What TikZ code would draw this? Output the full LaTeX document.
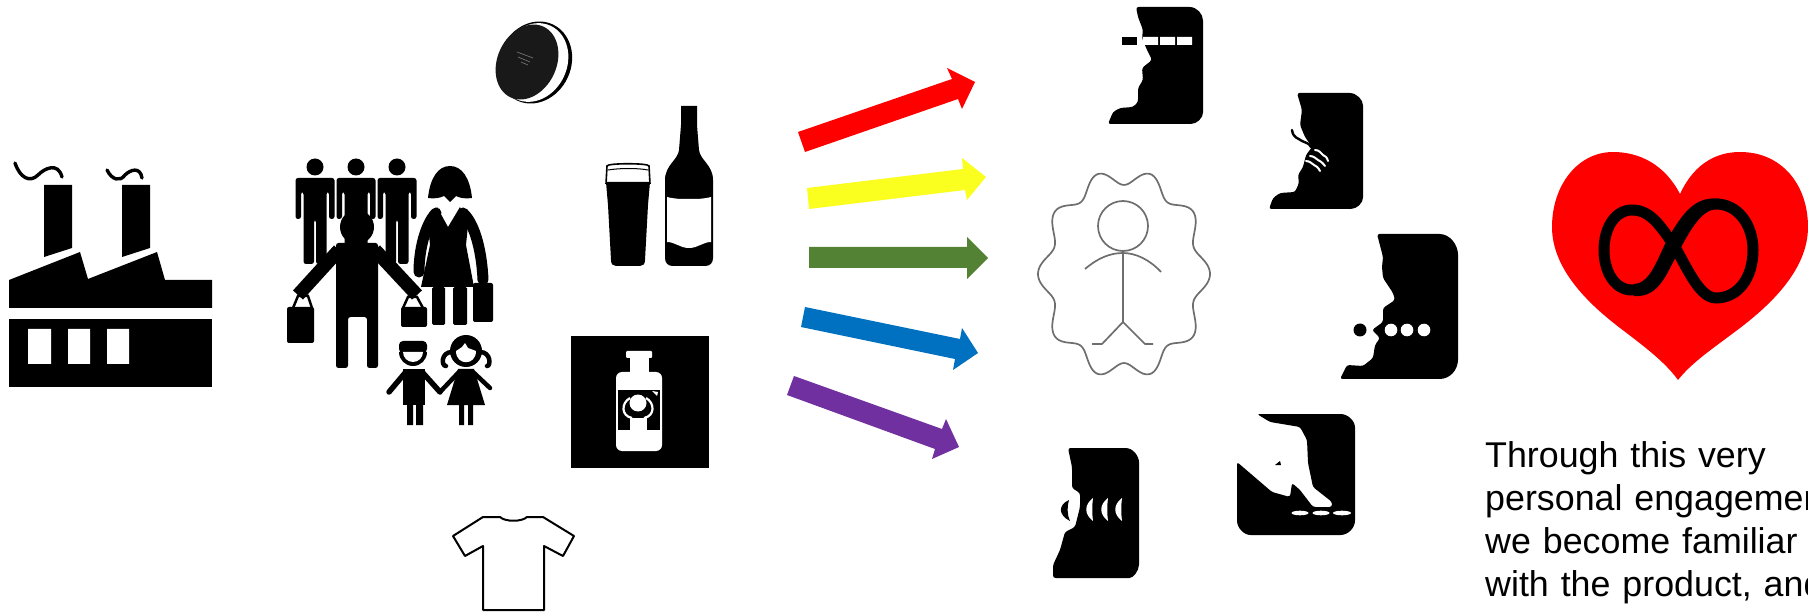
\documentclass[tikz,border=0pt]{standalone}
\usepackage{fontspec}
\setmainfont{Liberation Sans}
\definecolor{arrred}{HTML}{FF0000}
\definecolor{arryellow}{HTML}{FAFF20}
\definecolor{arrgreen}{HTML}{548235}
\definecolor{arrblue}{HTML}{0070C0}
\definecolor{arrpurple}{HTML}{7030A0}
\definecolor{linegray}{HTML}{6E6E6E}
\tikzset{
  ink/.style={fill=black,draw=none},
  paper/.style={fill=white,draw=none},
  smoke/.style={draw=black,line width=3.4,line cap=round},
  grayline/.style={draw=linegray,line width=1.7,line join=round},
  limb/.style={draw=black,line width=5.5,line cap=round},
  soft/.style={fill=black,draw=none,rounded corners=2.5},
  caption/.style={anchor=north west,inner sep=0pt,text width=420pt,align=left,font=\fontsize{35.8}{43}\selectfont}
}
\begin{document}
\begin{tikzpicture}[x=1pt,y=-1pt]
\useasboundingbox (0,0) rectangle (1808,612);
\clip (0,0) rectangle (1808,612);
\fill[white] (0,0) rectangle (1808,612);

% factory
\fill[ink] (44,185) rectangle (72,248) (44,248) -- (72,248) -- (44,257) -- cycle;
\fill[ink] (122,185) rectangle (150,248) (122,248) -- (150,248) -- (122,257) -- cycle;
\draw[smoke] (15,163) .. controls (20,178) and (30,183) .. (38,175) .. controls (45,168) and (58,162) .. (62,177);
\draw[smoke] (107,170) .. controls (112,180) and (120,182) .. (125,175) .. controls (130,170) and (140,166) .. (142,178);
\fill[ink] (9,280) -- (80,252) -- (88,279) -- (157,252) -- (165,280) -- (212,280) -- (212,308) -- (9,308) -- cycle;
\fill[ink] (9,319) rectangle (212,387);
\fill[paper] (28,329) rectangle (51,364) (68,329) rectangle (90,364) (107,329) rectangle (129,364);

% three men
\foreach \cx in {315,356,397}{
  \fill[ink] (\cx,167) circle [radius=8.5];
  \fill[soft] (\cx-19.5,219) -- (\cx-19.5,178) -- (\cx+19.5,178) -- (\cx+19.5,219)
    -- (\cx+14,219) -- (\cx+14,192) -- (\cx+11.5,192) -- (\cx+11.5,264) -- (\cx+1,264) -- (\cx+1,220) -- (\cx-1,220)
    -- (\cx-1,264) -- (\cx-11.5,264) -- (\cx-11.5,192) -- (\cx-14,192) -- (\cx-14,219) -- cycle;
}
% big man
\fill[ink] (357,227) circle [radius=17];
\fill[soft] (336,243) -- (378,243) -- (378,368) -- (367,368) -- (367,317) -- (348,317) -- (348,368) -- (336,368) -- cycle;
\draw[black,line width=13.5] (339,250) -- (298,295);
\draw[black,line width=13.5] (375,250) -- (417,295);
\draw[black,line width=2.5] (293,308) -- (298,296) -- (308,296) -- (312,308);
\draw[black,line width=2.5] (403,308) -- (408,297) -- (417,297) -- (423,308);
\fill[ink,rounded corners=2] (287,307) rectangle (314,343);
\fill[ink,rounded corners=2] (401,307) rectangle (427,327);

% woman
\fill[ink] (428,198) .. controls (430,178) and (438,166) .. (450,166) .. controls (462,166) and (470,178) .. (472,198) .. controls (465,199) and (460,198) .. (456,196) -- (450,202) -- (444,196) .. controls (440,198) and (434,199) .. (428,198) -- cycle;
\draw[black,line width=11,line cap=round,line join=round] (436,213) .. controls (425,225) and (419,250) .. (419,272);
\draw[black,line width=11,line cap=round,line join=round] (463,213) .. controls (476,225) and (482,255) .. (483,280);
\fill[ink] (437,207) -- (448,227) -- (460,207) -- (468,225) -- (466,245) -- (474,287) -- (421,287) -- (430,245) -- (428,225) -- cycle;
\fill[soft,rounded corners=1.5] (432,287) rectangle (445,325) (453,287) rectangle (467,325);
\fill[ink,rounded corners=2] (473,283) rectangle (493,322);

% boy
\fill[soft,rounded corners=4] (399,341) rectangle (427,353);
\fill[ink] (399,352) arc [start angle=180,end angle=0,radius=14] -- cycle;
\fill[paper] (403,352) arc [start angle=180,end angle=0,radius=10] -- cycle;
\fill[ink] (403,369) rectangle (425,405);
\draw[limb] (405,373) -- (389,392);
\draw[limb] (423,373) -- (440,392);
\fill[ink] (407,405) rectangle (413,425) (416,405) rectangle (423,425);
% girl
\fill[ink] (466,351) circle [radius=16];
\fill[paper] (456,351) -- (462,347) -- (465,343) -- (468,348) -- (476,351) .. controls (476,366) and (456,366) .. (456,351) -- cycle;
\draw[black,line width=4.5,line cap=round] (452,352) .. controls (441,352) and (441,366) .. (446,366);
\draw[black,line width=4.5,line cap=round] (480,352) .. controls (491,352) and (491,366) .. (487,366);
\fill[ink] (458,369) -- (474,369) -- (485,405) -- (447,405) -- cycle;
\draw[limb,line width=4.5] (459,372) -- (440,392);
\draw[limb,line width=4.5] (473,372) -- (490,388);
\fill[ink] (459,405) rectangle (464,425) (468,405) rectangle (473,425);

% cookie
\fill[ink] (535,62.5) ellipse [x radius=36,y radius=42,rotate=-25];
\fill[paper] (533.5,62.5) ellipse [x radius=33.5,y radius=40.5,rotate=-25];
\fill[black!90] (527,62) ellipse [x radius=29.5,y radius=39,rotate=-25];
\draw[black!55,line width=0.7] (517,52) -- (533,58) (518,57) -- (530,62) (521,62) -- (528,65);

% beer glass
\draw[black,line width=1.6] (606,184) -- (607,166) .. controls (607,163) and (649,163) .. (649,166) -- (650,184);
\draw[black,line width=1] (608,170) .. controls (620,168) and (638,168) .. (648,170);
\fill[ink] (606,182) -- (650,182) -- (648,205) -- (645,260) .. controls (645,264) and (643,266) .. (640,266) -- (616,266) .. controls (613,266) and (611,264) .. (611,260) -- (608,205) -- cycle;
% bottle
\fill[ink] (681,106) -- (697,106) -- (697,125) -- (699,150) .. controls (700,160) and (713,165) .. (713,180) -- (713,258) .. controls (713,263) and (710,266) .. (705,266) -- (673,266) .. controls (668,266) and (665,263) .. (665,258) -- (665,180) .. controls (665,165) and (678,160) .. (679,150) -- (681,125) -- cycle;
\fill[paper] (667,197) .. controls (675,199) and (680,199) .. (689,199) .. controls (698,199) and (703,199) .. (711,197) -- (711,242) .. controls (703,242) and (698,248) .. (689,248) .. controls (680,248) and (675,242) .. (667,242) -- cycle;

% medicine box
\fill[ink] (571,336) rectangle (709,468);
\fill[paper,rounded corners=1] (626,351) rectangle (652,358);
\fill[paper] (630,358) rectangle (649,373);
\fill[paper,rounded corners=6] (616,372) rectangle (662,451);
\fill[ink] (618,390) rectangle (660,430);
\fill[paper] (638,403) circle [radius=8.5];
\draw[white,line width=2.2] (630,398) .. controls (621,403) and (621,416) .. (632,418);
\draw[white,line width=2.2] (646,398) .. controls (655,403) and (655,416) .. (644,418);
\fill[paper] (630,418) rectangle (647,430);
\fill[paper] (652,391) -- (658,392) -- (657,396) -- cycle;

% t-shirt
\draw[black,line width=2,fill=white,line join=round] (483,517) -- (500,517) .. controls (505,522) and (522,522) .. (527,517) -- (543,517) -- (574,536) -- (563,556) -- (544,546) -- (544,610) -- (483,610) -- (483,546) -- (465,556) -- (453,536) -- cycle;

% arrows
\fill[arrred] (798,132) -- (952,79) -- (947,68) -- (975,82) -- (962,109) -- (958,99) -- (805,152) -- cycle;
\fill[arryellow] (807,188) -- (963,169) -- (962,158) -- (986,177) -- (967,200) -- (965,190) -- (809,209) -- cycle;
\fill[arrgreen] (809,247) -- (967,247) -- (967,237) -- (988,258) -- (967,279) -- (967,268) -- (809,268) -- cycle;
\fill[arrblue] (805,307) -- (960,339) -- (962,328) -- (978,353) -- (953,370) -- (955,359) -- (801,327) -- cycle;
\fill[arrpurple] (794,376) -- (942,429) -- (946,419) -- (959,447) -- (932,459) -- (935,449) -- (787,395) -- cycle;

% badge with person
\draw[grayline] plot[domain=0:360,samples=361,variable=\t] ({1124+(79.5+6.5*cos(10*\t))*cos(\t)},{274+1.22*(79.5+6.5*cos(10*\t))*sin(\t)}) -- cycle;
\draw[grayline] (1123,226) circle [radius=25];
\draw[grayline] (1123,252) -- (1123,322) -- (1102,344) -- (1092,344);
\draw[grayline] (1123,322) -- (1145,344) -- (1153,344);
\draw[grayline] (1085,269) .. controls (1098,258) and (1110,253) .. (1123,253) .. controls (1136,253) and (1150,260) .. (1161,272);

% head: sight
\fill[soft] (1136,7) -- (1187,7) .. controls (1197,7) and (1203,14) .. (1203,23) -- (1203,110) .. controls (1203,118) and (1197,124) .. (1188,124) -- (1108,124) -- (1113,112) -- (1120,108) -- (1133,107) -- (1138,102) -- (1138,88) -- (1143,80) -- (1142,68) -- (1152,60) -- (1147,50) -- (1142,38) -- (1143,30) -- (1138,17) -- cycle;
\fill[ink] (1122,37) rectangle (1137,45);
\fill[paper] (1143,37) rectangle (1158,45) (1160,37) rectangle (1175,45) (1177,37) rectangle (1192,45);

% head: smell
\fill[soft] (1297,93) -- (1347,93) .. controls (1357,93) and (1363,100) .. (1363,108) -- (1363,195) .. controls (1363,203) and (1357,209) .. (1348,209) -- (1269,209) -- (1273,198) -- (1280,193) -- (1295,192) -- (1299,183) -- (1298,175) -- (1303,167) -- (1306,155) -- (1312,147) -- (1305,137) -- (1300,125) -- (1302,110) -- cycle;
\draw[black,line width=2.4,line cap=round] (1292,130) .. controls (1293,138) and (1298,138) .. (1302,141) .. controls (1306,143) and (1309,143) .. (1311,147);
\draw[white,line width=2,line cap=round] (1306,161) .. controls (1310,161) and (1312,164) .. (1314,165) .. controls (1316,166) and (1318,167) .. (1320,171);
\draw[white,line width=2,line cap=round] (1310,156) .. controls (1314,156) and (1316,159) .. (1318,160) .. controls (1320,161) and (1322,162) .. (1325,166);
\draw[white,line width=2,line cap=round] (1315,150) .. controls (1319,150) and (1321,153) .. (1323,155) .. controls (1325,156) and (1327,157) .. (1328,161);

% head: taste
\fill[soft] (1377,234) -- (1437,234) .. controls (1450,234) and (1458,245) .. (1458,257) -- (1458,357) .. controls (1458,370) and (1450,379) .. (1437,379) -- (1340,379) -- (1347,365) -- (1363,366) -- (1373,358) -- (1375,345) -- (1380,338) -- (1372,330) -- (1383,322) -- (1383,308) -- (1395,300) -- (1393,293) -- (1383,278) -- (1382,267) -- (1383,257) -- cycle;
\fill[ink] (1360,330) circle [radius=6.5];
\fill[paper] (1391,330) circle [radius=6.3] (1407,330) circle [radius=6.3] (1424,330) circle [radius=6.3];

% head: hearing
\fill[soft] (1068,448) -- (1123,448) .. controls (1133,448) and (1139,456) .. (1139,465) -- (1139,562) .. controls (1139,571) and (1133,578) .. (1127,578) -- (1053,578) -- (1053,565) -- (1060,550) -- (1065,532) -- (1075,527) -- (1080,507) -- (1080,493) -- (1072,488) -- (1072,467) -- cycle;
\fill[ink] (1069,500) .. controls (1058,505) and (1058,515) .. (1070,521) .. controls (1067,515) and (1067,506) .. (1069,500) -- cycle;
\foreach \ax in {1091,1106,1120}{
  \fill[paper] (\ax+2,498) .. controls (\ax-7,505) and (\ax-7,514) .. (\ax+2,521) .. controls (\ax+1,513) and (\ax+1,506) .. (\ax+2,498) -- cycle;
}

% head: touch
\fill[soft] (1257,414) -- (1338,414) .. controls (1348,414) and (1355,421) .. (1355,430) -- (1355,518) .. controls (1355,528) and (1348,535) .. (1338,535) -- (1253,535) .. controls (1244,535) and (1237,528) .. (1237,518) -- (1237,462) -- (1272,492) -- (1290,497) -- (1292,483) -- (1300,490) -- (1313,507) -- (1332,507) -- (1332,502) -- (1313,487) -- (1308,463) -- (1307,440) -- (1300,427) -- (1270,422) -- cycle;
\fill[ink] (1275,465) -- (1280,461) -- (1281,465) -- cycle;
\fill[paper] (1300,513) ellipse [x radius=8.5,y radius=2.3] (1321,513) ellipse [x radius=8.5,y radius=2.3] (1342,513) ellipse [x radius=9,y radius=2.3];

% heart
\fill[arrred] (1680,194) .. controls (1665,165) and (1640,152) .. (1613,152) .. controls (1578,152) and (1552,185) .. (1552,227) .. controls (1552,270) and (1590,305) .. (1620,328) .. controls (1645,347) and (1665,362) .. (1678,380) .. controls (1692,362) and (1715,347) .. (1740,328) .. controls (1770,305) and (1808,270) .. (1808,227) .. controls (1808,185) and (1782,152) .. (1740,152) .. controls (1712,152) and (1692,168) .. (1680,194) -- cycle;
\draw[black,line width=11] (1675,247) .. controls (1660,225) and (1650,210) .. (1632,210) .. controls (1615,210) and (1604,228) .. (1604,250) .. controls (1604,272) and (1615,290) .. (1632,290) .. controls (1655,290) and (1662,270) .. (1675,247) .. controls (1688,222) and (1700,204) .. (1716,204) .. controls (1738,204) and (1753,225) .. (1753,250) .. controls (1753,278) and (1738,298) .. (1716,298) .. controls (1700,298) and (1688,270) .. (1675,247) -- cycle;
\fill[ink] (1634,296) .. controls (1660,298) and (1668,272) .. (1682,242) .. controls (1690,224) and (1702,208) .. (1720,199) .. controls (1695,195) and (1682,214) .. (1667,240) .. controls (1656,262) and (1650,283) .. (1634,284) -- cycle;

% caption
\node[caption] (cap) at (1485,441.5) {Through this very\\personal engagement\\we become familiar\\with the product, and};
\end{tikzpicture}
\end{document}
